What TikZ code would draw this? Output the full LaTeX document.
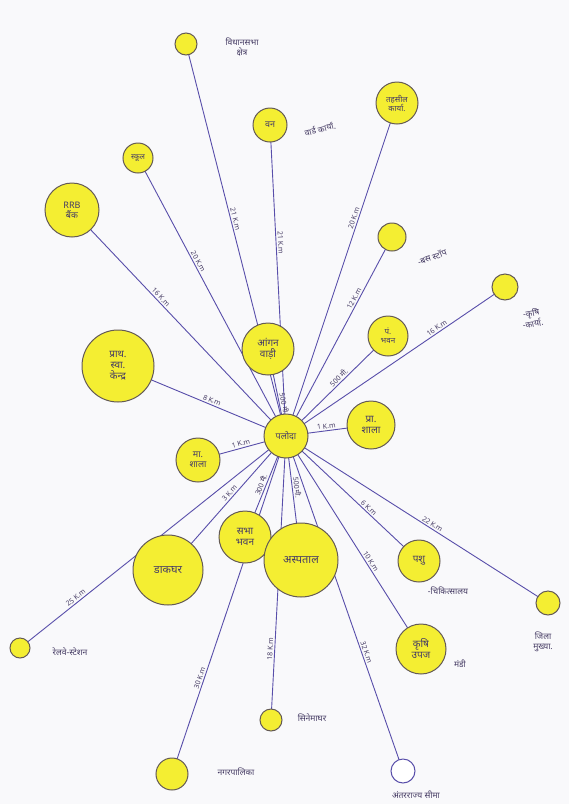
\documentclass[tikz,border=0pt]{standalone}
\usepackage{fontspec}
\newfontfamily\hin[Script=Devanagari]{Noto Sans}
\usetikzlibrary{backgrounds}
\definecolor{yel}{RGB}{244,238,50}
\definecolor{rim}{RGB}{100,90,85}
\definecolor{ln}{RGB}{88,78,170}
\definecolor{ink}{RGB}{70,60,100}
\definecolor{paper}{RGB}{249,249,251}
\begin{document}
\begin{tikzpicture}[x=1pt,y=-1pt,
 spot/.style={circle, draw=rim, line width=1pt, fill=yel, inner sep=0pt, align=center, text=ink, font=\hin\fontsize{9}{10}\selectfont},
 hollow/.style={circle, draw=ln, line width=1pt, fill=white, inner sep=0pt},
 tag/.style={text=ink, font=\hin\fontsize{8.5}{9.5}\selectfont, align=center},
 dist/.style={text=ink, font=\hin\fontsize{7}{8}\selectfont, sloped, above, inner sep=1.5pt},
 link/.style={draw=ln, line width=0.9pt}]
\useasboundingbox (0,0) rectangle (569,804);

% circles
\node[spot, minimum size=44pt] (c) at (286,436) {पलोदा};
\node[spot, minimum size=22pt] (vidhan) at (186,44) {};
\node[spot, minimum size=34pt] (van) at (270,125) {वन};
\node[spot, minimum size=42pt, font=\hin\fontsize{8}{9}\selectfont] (tehsil) at (397,103) {तहसील\\कार्या.};
\node[spot, minimum size=30pt, font=\hin\fontsize{7.5}{8}\selectfont] (school) at (138,158) {स्कूल};
\node[spot, minimum size=54pt] (rrb) at (72,210) {RRB\\बैंक};
\node[spot, minimum size=28pt] (bus) at (392,237) {};
\node[spot, minimum size=26pt] (krishi) at (505,287) {};
\node[spot, minimum size=40pt, font=\hin\fontsize{8}{9}\selectfont] (panch) at (388,336) {पं.\\भवन};
\node[spot, minimum size=52pt, font=\hin\fontsize{10}{11}\selectfont] (angan) at (268,349) {आंगन\\वाड़ी};
\node[spot, minimum size=72pt, font=\hin\fontsize{10}{11}\selectfont] (phc) at (118,366) {प्राथ.\\स्वा.\\केन्द्र};
\node[spot, minimum size=48pt, font=\hin\fontsize{10}{11}\selectfont] (prashala) at (371,425) {प्रा.\\शाला};
\node[spot, minimum size=44pt] (mashala) at (198,460) {मा.\\शाला};
\node[spot, minimum size=52pt, font=\hin\fontsize{10}{11}\selectfont] (sabha) at (245,537) {सभा\\भवन};
\node[spot, minimum size=70pt, font=\hin\fontsize{11}{12}\selectfont] (dak) at (168,570) {डाकघर};
\node[spot, minimum size=74pt, font=\hin\fontsize{11}{12}\selectfont] (hosp) at (301,560) {अस्पताल};
\node[spot, minimum size=42pt, font=\hin\fontsize{10}{11}\selectfont] (pashu) at (419,561) {पशु};
\node[spot, minimum size=50pt, font=\hin\fontsize{10}{11}\selectfont] (mandi) at (421,649) {कृषि\\उपज};
\node[spot, minimum size=24pt] (jila) at (548,603) {};
\node[spot, minimum size=20pt] (rail) at (20,648) {};
\node[spot, minimum size=22pt] (cinema) at (271,720) {};
\node[spot, minimum size=32pt] (nagar) at (172,774) {};
\node[hollow, minimum size=24pt] (sima) at (403,771) {};

% outside labels
\node[tag] (t1) at (242,47) {विधानसभा\\क्षेत्र};
\node[tag, rotate=15] (t2) at (320,129) {वार्ड कार्या.};
\node[tag, rotate=20] (t3) at (432,257) {-बस स्टॉप};
\node[tag, rotate=10] (t4) at (532,318) {-कृषि\\-कार्या.};
\node[tag] (t5) at (448,591) {-चिकित्सालय};
\node[tag] (t6) at (460,664) {मंडी};
\node[tag] (t7) at (543,642) {जिला\\मुख्या.};
\node[tag] (t8) at (70,652) {रेलवे-स्टेशन};
\node[tag] (t9) at (312,718) {सिनेमाघर};
\node[tag] (t10) at (236,772) {नगरपालिका};
\node[tag] (t11) at (416,795) {अंतरराज्य सीमा};

% connectors
\begin{pgfonlayer}{background}
\fill[paper] (0,0) rectangle (569,804);
\draw[link] (c.center) -- node[dist,pos=0.55]{21 K.m} (vidhan.center);
\draw[link] (c.center) -- node[dist,pos=0.62]{21 K.m} (van.center);
\draw[link] (c.center) -- node[dist,pos=0.65]{20 K.m} (tehsil.center);
\draw[link] (c.center) -- node[dist,pos=0.62]{20 K.m} (school.center);
\draw[link] (c.center) -- node[dist,pos=0.6]{16 K.m} (rrb.center);
\draw[link] (c.center) -- node[dist,pos=0.68]{12 K.m} (bus.center);
\draw[link] (c.center) -- node[dist,pos=0.7]{16 K.m} (krishi.center);
\draw[link] (c.center) -- node[dist,pos=0.55]{500 मी.} (panch.center);
\draw[link] (c.center) -- node[dist,pos=0.36]{500 मी.} (angan.center);
\draw[link] (c.center) -- node[dist,pos=0.45]{8 K.m} (phc.center);
\draw[link] (c.center) -- node[dist,pos=0.48]{1 K.m} (prashala.center);
\draw[link] (c.center) -- node[dist,pos=0.5]{1 K.m} (mashala.center);
\draw[link] (c.center) -- node[dist,pos=0.45]{3 K.m} (dak.center);
\draw[link] (c.center) -- node[dist,pos=0.5]{300 मी.} (sabha.center);
\draw[link] (c.center) -- node[dist,pos=0.42]{500 मी.} (hosp.center);
\draw[link] (c.center) -- node[dist,pos=0.6]{6 K.m} (pashu.center);
\draw[link] (c.center) -- node[dist,pos=0.55]{22 K.m} (jila.center);
\draw[link] (c.center) -- node[dist,pos=0.6]{10 K.m} (mandi.center);
\draw[link] (c.center) -- node[dist,pos=0.75]{18 K.m} (cinema.center);
\draw[link] (c.center) -- node[dist,pos=0.72]{30 K.m} (nagar.center);
\draw[link] (c.center) -- node[dist,pos=0.65]{32 K.m} (sima.center);
\draw[link] (c.center) -- node[dist,pos=0.78]{25 K.m} (rail.center);
\end{pgfonlayer}
\end{tikzpicture}
\end{document}
